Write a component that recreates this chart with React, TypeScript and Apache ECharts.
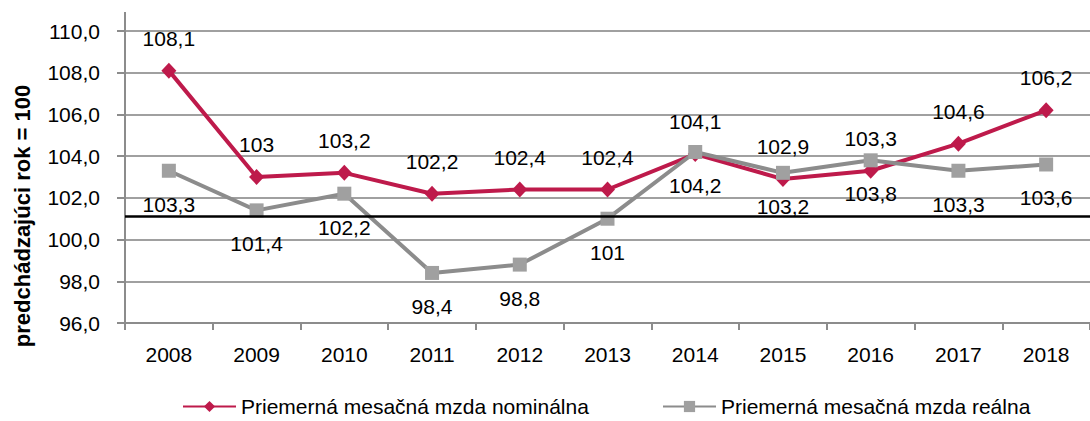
import React, { useEffect, useRef } from "react";
import * as echarts from "echarts";

const years = ["2008", "2009", "2010", "2011", "2012", "2013", "2014", "2015", "2016", "2017", "2018"];
const nominal = [108.1, 103, 103.2, 102.2, 102.4, 102.4, 104.1, 102.9, 103.3, 104.6, 106.2];
const real = [103.3, 101.4, 102.2, 98.4, 98.8, 101, 104.2, 103.2, 103.8, 103.3, 103.6];
const seriesNames = ["Priemerná mesačná mzda nominálna", "Priemerná mesačná mzda reálna"];
const yMin = 96;
const yMax = 110;
const yInterval = 2;
const referenceValue = 101.1;
const yAxisTitle = "predchádzajúci rok = 100";

const FONT = "'Liberation Sans', Arial, sans-serif";
const FS = 21;
const comma = (v: number) => String(v).replace(".", ",");

export default function App() {
  const ref = useRef<HTMLDivElement>(null);
  useEffect(() => {
    if (!ref.current) return;
    const chart = echarts.init(ref.current, undefined, { renderer: "svg" });
    const legendBase = {
      top: 396,
      itemWidth: 53,
      itemHeight: 14,
      padding: 0,
      textStyle: { fontFamily: FONT, fontSize: FS, color: "#000" },
    };
    chart.setOption({
      animation: false,
      backgroundColor: "#ffffff",
      textStyle: { fontFamily: FONT },
      grid: { left: 125, right: -7, top: 31, bottom: 98, containLabel: false },
      legend: [
        { ...legendBase, left: 182, data: [seriesNames[0]] },
        { ...legendBase, left: 662, data: [seriesNames[1]] },
      ],
      xAxis: {
        type: "category",
        data: years,
        boundaryGap: true,
        axisLine: { lineStyle: { color: "#8c8c8c", width: 2 } },
        axisTick: { show: true, length: 7, lineStyle: { color: "#8c8c8c", width: 2 } },
        axisLabel: { color: "#000", fontSize: FS, fontFamily: FONT, margin: 21 },
      },
      yAxis: {
        type: "value",
        min: yMin,
        max: yMax,
        interval: yInterval,
        axisLine: { show: true, lineStyle: { color: "#8c8c8c", width: 2 } },
        axisTick: { show: true, length: 8, lineStyle: { color: "#8c8c8c", width: 2 } },
        splitLine: { show: true, lineStyle: { color: "#a0a0a0", width: 2 } },
        axisLabel: {
          color: "#000",
          fontSize: FS,
          fontFamily: FONT,
          margin: 25,
          formatter: (v: number) => v.toFixed(1).replace(".", ","),
        },
      },
      graphic: [
        {
          type: "line",
          shape: { x1: 125, y1: 12, x2: 125, y2: 31 },
          style: { stroke: "#8c8c8c", lineWidth: 2 },
        },
        {
          type: "text",
          x: 22,
          y: 216,
          rotation: Math.PI / 2,
          style: {
            text: yAxisTitle,
            fontFamily: FONT,
            fontWeight: "bold",
            fontSize: 22,
            fill: "#000",
            align: "center",
            verticalAlign: "middle",
          },
        },
      ],
      series: [
        {
          name: "ref",
          type: "line",
          data: [],
          z: 1,
          silent: true,
          markLine: {
            silent: true,
            symbol: "none",
            label: { show: false },
            lineStyle: { color: "#000", width: 2.5, type: "solid" },
            data: [{ yAxis: referenceValue }],
          },
        },
        {
          name: seriesNames[0],
          type: "line",
          data: nominal,
          z: 3,
          symbol: "diamond",
          symbolSize: [15, 16],
          itemStyle: { color: "#be1a4b" },
          lineStyle: { color: "#be1a4b", width: 4 },
          label: {
            show: true,
            position: "top",
            distance: 14,
            fontSize: FS,
            fontFamily: FONT,
            color: "#000",
            formatter: (p: any) => comma(p.value),
          },
        },
        {
          name: seriesNames[1],
          type: "line",
          data: real,
          z: 4,
          symbol: "rect",
          symbolSize: 14,
          itemStyle: { color: "#a0a0a0" },
          lineStyle: { color: "#8c8c8c", width: 4 },
          label: {
            show: true,
            position: "bottom",
            distance: 16,
            fontSize: FS,
            fontFamily: FONT,
            color: "#000",
            formatter: (p: any) => comma(p.value),
          },
        },
      ],
    });
    return () => chart.dispose();
  }, []);
  return (
    <div
      ref={ref}
      style={{ position: "fixed", left: 0, top: 0, width: 1090, height: 421 }}
    />
  );
}
